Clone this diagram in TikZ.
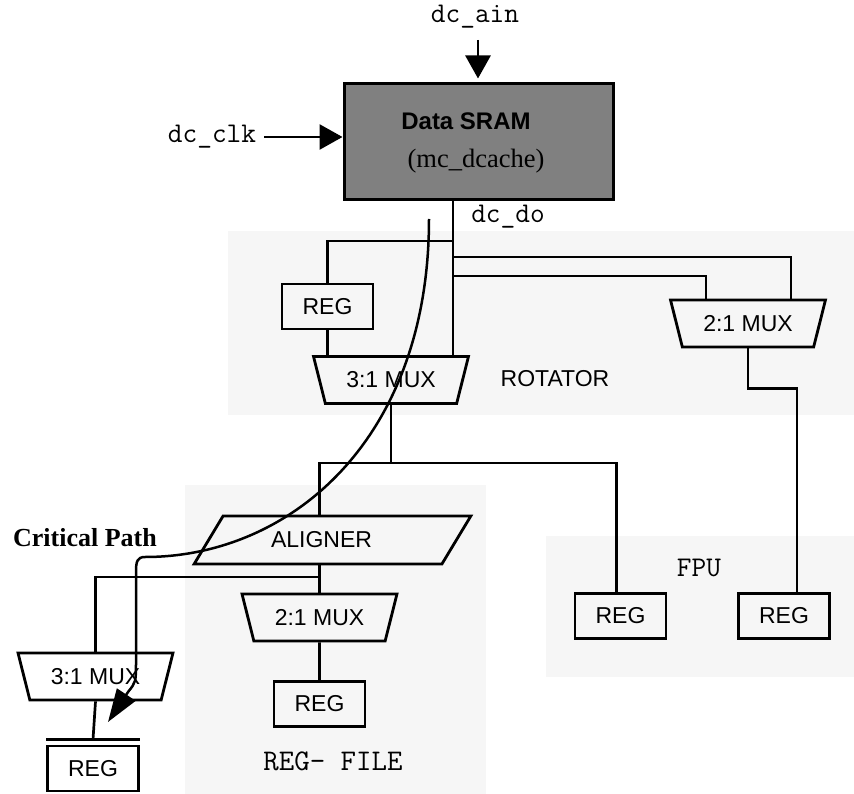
\documentclass[tikz,border=0pt]{standalone}
\usepackage{fontspec}
\setmainfont{Liberation Serif}
\newfontfamily\helv{Liberation Sans}
\usetikzlibrary{arrows.meta,shapes.geometric}
\definecolor{panel}{RGB}{246,246,246}
\definecolor{sramgray}{RGB}{128,128,128}

\begin{document}
\begin{tikzpicture}[x=1pt,y=-1pt,
  wire/.style={line width=2.7pt},
  sig/.style={line width=2.7pt,-{Triangle[length=23pt,width=25pt]}},
  critpath/.style={line width=2.5pt,-{Triangle[length=33pt,width=22pt]}},
  blockfont/.style={font=\helv\fontsize{23}{23}\selectfont},
  regbox/.style={draw,line width=2.8pt,minimum width=91pt,minimum height=45pt,inner sep=0pt,blockfont},
  muxbox/.style={trapezium,trapezium left angle=112.5,trapezium right angle=112.5,
    trapezium stretches=true,draw,line width=2.8pt,minimum width=155pt,
    minimum height=47pt,inner sep=2pt,blockfont},
  alignbox/.style={trapezium,trapezium left angle=61.6,trapezium right angle=118.4,
    trapezium stretches=true,draw,line width=2.8pt,minimum width=277pt,
    minimum height=48pt,inner sep=2pt,blockfont},
  sram/.style={draw,line width=3pt,fill=sramgray,minimum width=269pt,minimum height=116pt,inner sep=0pt},
  monolbl/.style={inner sep=0pt,font=\ttfamily\fontsize{28.5}{28.5}\selectfont},
  sanslbl/.style={inner sep=0pt,blockfont}
]
\useasboundingbox (0,0) rectangle (854,794);

% shaded block regions
\fill[panel] (228,231) rectangle (854,415);
\fill[panel] (185,485) rectangle (486,794);
\fill[panel] (546,536) rectangle (854,677);

% data SRAM with its inputs
\node[sram] (sram) at (478.5,142) {};
\node[font=\helv\bfseries\fontsize{24}{24}\selectfont,inner sep=0pt] (sramtitle) at (466,121) {Data SRAM};
\node[font=\rmfamily\fontsize{26.5}{26.5}\selectfont,inner sep=0pt] (sramsub) at (476,161) {(mc\_dcache)};

\node[monolbl] (ain) at (475,17) {dc\_ain};
\coordinate (ainstart) at (478,40);
\draw[sig,shorten >=4pt] (ainstart) -- (ainstart |- sram.north);

\node[monolbl] (clk) at (212,137) {dc\_clk};
\draw[sig] ([xshift=8pt]clk.east) -- (clk.east -| sram.west);

\node[monolbl] (do) at (508,217) {dc\_do};

% rotator
\node[regbox] (reg1) at (327.5,306.5) {REG};
\node[muxbox] (mux31a) at (391,380) {3:1 MUX};
\node[muxbox] (mux21a) at (748,323.5) {2:1 MUX};
\node[sanslbl] (rotlbl) at (555,379) {ROTATOR};

\coordinate (tap1) at (453,241);
\coordinate (tap2) at (453,257);
\coordinate (tap3) at (453,276);
\draw[wire] (sram.south -| tap1) -- (tap1 |- mux31a.north);
\draw[wire] (tap1) -| (reg1.north);
\draw[wire] (reg1.south) -- (reg1.south |- mux31a.north);
\draw[wire] (tap2) -| ([xshift=43pt]mux21a.north);
\draw[wire] (tap3) -| ([xshift=-42pt]mux21a.north);

% FPU
\node[regbox] (fpuL) at (620.5,616) {REG};
\node[regbox] (fpuR) at (784,616) {REG};
\node[monolbl] (fpulbl) at (699,568) {FPU};
\draw[wire] (mux21a.south) -- ++(0,40) -| ([xshift=13pt]fpuR.north);

% register file path
\node[alignbox] (aligner) at (332.5,540) {\hspace*{-22pt}ALIGNER};
\node[muxbox] (mux21b) at (319.5,617.5) {2:1 MUX};
\node[regbox] (rfreg) at (319.5,704) {REG};
\node[monolbl,font=\ttfamily\fontsize{30}{30}\selectfont] (rflbl) at (333,761) {REG- FILE};

\node[muxbox] (mux31b) at (95.5,676.5) {3:1 MUX};
\node[regbox] (outreg) at (93,768.5) {REG};

\coordinate (split) at (391,463);
\coordinate (tap4) at (319.5,577);
\draw[wire] (mux31a.south) -- (mux31a.south |- split);
\draw[wire] (split) -| (aligner.north -| mux21b.north);
\draw[wire] (split) -| ([xshift=-4pt]fpuL.north);
\draw[wire] (aligner.south -| mux21b.north) -- (mux21b.north);
\draw[wire] (tap4) -| (mux31b.north);
\draw[wire] (mux21b.south) -- (rfreg.north);
\draw[wire] (mux31b.south) -- ([yshift=5pt]outreg.north);
\draw[wire] ([yshift=5pt]outreg.north west) -- ([yshift=5pt]outreg.north east);

% critical path
\node[font=\rmfamily\bfseries\fontsize{26}{26}\selectfont,inner sep=0pt] (critlbl) at (85,538) {Critical Path};
\coordinate (cpstart) at (429,219);
\coordinate (cpend) at (108,722);
\draw[critpath] (cpstart) .. controls (429,440) and (290,557) .. (145,557)
  .. controls (137,557) and (136,562) .. (136,572) -- (136,662)
  .. controls (136,682) .. (128,692) -- (cpend);
\end{tikzpicture}
\end{document}
